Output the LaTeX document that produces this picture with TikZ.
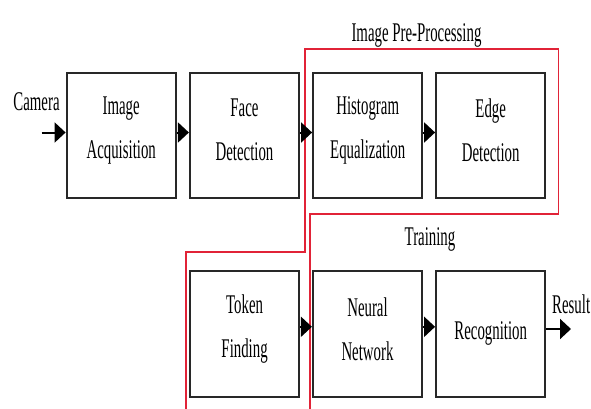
\documentclass[tikz,border=0pt]{standalone}
\usepackage{fontspec}
\newfontfamily\tnr[FakeStretch=0.55]{Liberation Serif}
\usetikzlibrary{arrows.meta}
\definecolor{redline}{RGB}{225,35,55}
\definecolor{boxline}{RGB}{40,40,40}
\begin{document}
\begin{tikzpicture}[x=1pt,y=-1pt,
  stepbox/.style={draw=boxline, line width=2.2pt, minimum width=109pt, minimum height=125pt, inner sep=0pt},
  lbl/.style={font=\tnr\fontsize{27}{44}\selectfont, align=center, inner sep=0pt},
  flow/.style={line width=2pt, -{Triangle[length=11pt,width=20pt]}},
  group/.style={draw=redline, line width=1.3pt}]
\fill[white] (0,0) rectangle (591,409);
\clip (0,0) rectangle (591,409);
% top row
\node[stepbox] (b1) at (121.2,135.2) {};
\node[stepbox] (b2) at (244.5,135.2) {};
\node[stepbox] (b3) at (367.7,135.2) {};
\node[stepbox] (b4) at (490.7,135.2) {};
% bottom row
\node[stepbox, minimum height=125.7pt] (b5) at (244.6,333.8) {};
\node[stepbox, minimum height=125.7pt] (b6) at (367.5,333.8) {};
\node[stepbox, minimum height=125.7pt] (b7) at (490.7,333.8) {};
% texts
\node[lbl] (t1) at ([yshift=5pt]b1.center) {Image\\Acquisition};
\node[lbl] (t2) at ([yshift=5pt]b2.center) {Face\\Detection};
\node[lbl] (t3) at ([yshift=5pt]b3.center) {Histogram\\Equalization};
\node[lbl] (t4) at ([yshift=5pt]b4.center) {Edge\\Detection};
\node[lbl] (t5) at ([yshift=5pt]b5.center) {Token\\Finding};
\node[lbl] (t6) at ([yshift=5pt]b6.center) {Neural\\Network};
\node[lbl] (t7) at (b7.center) {Recognition};
\node[lbl] (cam) at (36.5,102) {Camera};
\node[lbl, anchor=west] (res) at (552,304) {Result};
\node[lbl] (pre) at (416.5,35.5) {Image Pre-Processing};
\node[lbl] (train) at (430,239) {Training};
% red group outline
\draw[group] (310,409) -- (310,214) -- (558.5,214) -- (558.5,49) -- (305,49) -- (305,252) -- (186,252) -- (186,409);
% connectors
\coordinate (cin) at (41.5,132.5);
\coordinate (cout) at (571,329);
\draw[flow] (cin) -- ([yshift=2.7pt]b1.west);
\draw[flow] ([yshift=2.7pt]b1.east) -- ([yshift=2.7pt]b2.west);
\draw[flow] ([yshift=2.7pt]b2.east) -- ([yshift=2.7pt]b3.west);
\draw[flow] ([yshift=2.7pt]b3.east) -- ([yshift=2.7pt]b4.west);
\draw[flow] ([yshift=7pt]b5.east) -- ([yshift=7pt]b6.west);
\draw[flow] ([yshift=7pt]b6.east) -- ([yshift=7pt]b7.west);
\draw[flow] ([yshift=4.8pt]b7.east) -- (cout);
\end{tikzpicture}
\end{document}
